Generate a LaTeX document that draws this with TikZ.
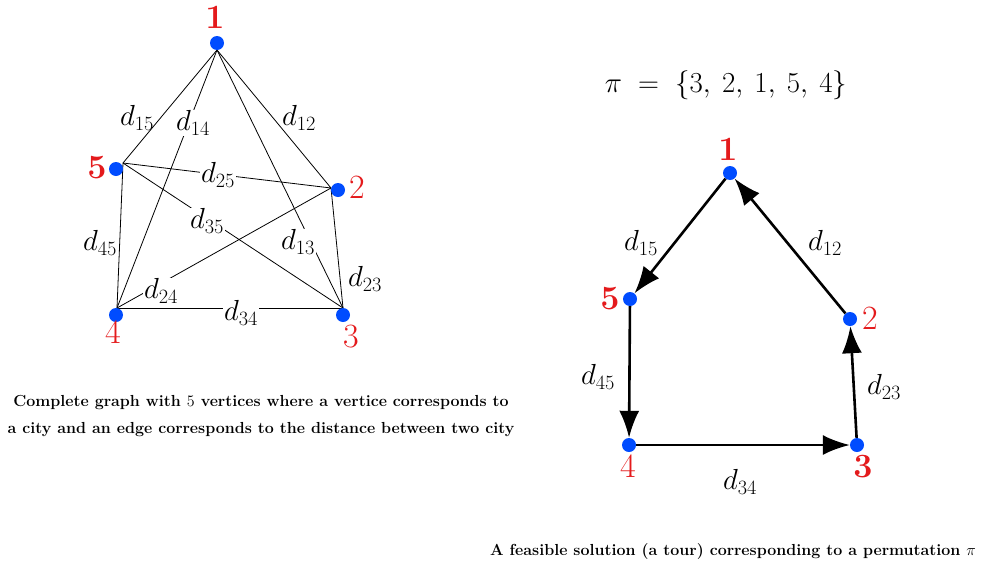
\RequirePackage{fix-cm}
\documentclass[tikz,border=0pt]{standalone}
\usetikzlibrary{arrows.meta}
\definecolor{vblue}{RGB}{0,76,255}
\definecolor{vred}{RGB}{228,26,28}
\begin{document}
\begin{tikzpicture}[x=1pt,y=-1pt,
 dot/.style={circle,fill=vblue,inner sep=0pt,minimum size=14pt},
 vlab/.style={text=vred,font=\fontsize{34}{38}\selectfont,inner sep=0pt},
 elab/.style={font=\fontsize{29}{33}\selectfont,inner sep=1pt},
 elabw/.style={elab,fill=white},
 edge/.style={line width=0.8pt},
 tour/.style={line width=2.6pt,-{Latex[length=27pt,width=20pt]}},
 captext/.style={font=\fontsize{16}{27}\selectfont\bfseries,align=center}]
\useasboundingbox (0,0) rectangle (983,568);
% ---------- left: complete graph ----------
\coordinate (h1) at (217,50);
\coordinate (h5) at (123,163);
\coordinate (h2) at (331,188);
\coordinate (h4) at (117,308);
\coordinate (h3) at (343,308);
\draw[edge] (h1) -- (h5);
\draw[edge] (h1) -- (h2);
\draw[edge] (h1) -- (h4);
\draw[edge] (h1) -- (h3);
\draw[edge] (h5) -- (h2);
\draw[edge] (h5) -- (h3);
\draw[edge] (h5) -- (h4);
\draw[edge] (h2) -- (h4);
\draw[edge] (h2) -- (h3);
\draw[edge] (h4) -- (h3);
\node[elab]  (l15) at (137,118) {$d_{15}$};
\node[elabw] (l14) at (193,123) {$d_{14}$};
\node[elab]  (l12) at (299,118) {$d_{12}$};
\node[elabw] (l25) at (218,175) {$d_{25}$};
\node[elabw] (l35) at (207,221) {$d_{35}$};
\node[elabw] (l13) at (298,242) {$d_{13}$};
\node[elab]  (l45) at (100,243) {$d_{45}$};
\node[elab]  (l23) at (365,279) {$d_{23}$};
\node[elabw] (l24) at (161,291) {$d_{24}$};
\node[elabw] (l34) at (241,313) {$d_{34}$};
\node[dot] (a1) at (217,43) {};
\node[dot] (a5) at (116,169) {};
\node[dot] (a2) at (338,190) {};
\node[dot] (a4) at (116,315) {};
\node[dot] (a3) at (343,315) {};
\node[vlab] (n1) at (215,18) {$\mathbf{1}$};
\node[vlab] (n5) at (97,168) {$\mathbf{5}$};
\node[vlab] (n2) at (357,188) {$2$};
\node[vlab] (n4) at (113,333) {$4$};
\node[vlab] (n3) at (351,337) {$3$};
\node[captext] (c1) at (261,416) {Complete graph with $5$ vertices where a vertice corresponds to\\a city and an edge corresponds to the distance between two city};
% ---------- right: tour ----------
\node[font=\fontsize{29}{34}\selectfont] (pi) at (726,85) {$\pi\;=\;\{3,\:2,\:1,\:5,\:4\}$};
\node[dot] (b1) at (730,173) {};
\node[dot] (b5) at (630,299) {};
\node[dot] (b2) at (850,319) {};
\node[dot] (b4) at (629,445) {};
\node[dot] (b3) at (857,445) {};
\draw[tour] (b1) -- (b5);
\draw[tour] (b5) -- (b4);
\draw[tour] (b4) -- (b3);
\draw[tour] (b3) -- (b2);
\draw[tour] (b2) -- (b1);
\node[vlab] (m1) at (728,150) {$\mathbf{1}$};
\node[vlab] (m5) at (610,299) {$\mathbf{5}$};
\node[vlab] (m2) at (870,319) {$2$};
\node[vlab] (m4) at (628,467) {$4$};
\node[vlab] (m3) at (863,467) {$\mathbf{3}$};
\node[elab] (r15) at (641,243) {$d_{15}$};
\node[elab] (r12) at (825,243) {$d_{12}$};
\node[elab] (r45) at (598,377) {$d_{45}$};
\node[elab] (r23) at (884,387) {$d_{23}$};
\node[elab] (r34) at (740,482) {$d_{34}$};
\node[captext] (c2) at (733,551) {A feasible solution (a tour) corresponding to a permutation $\pi$};
\end{tikzpicture}
\end{document}
